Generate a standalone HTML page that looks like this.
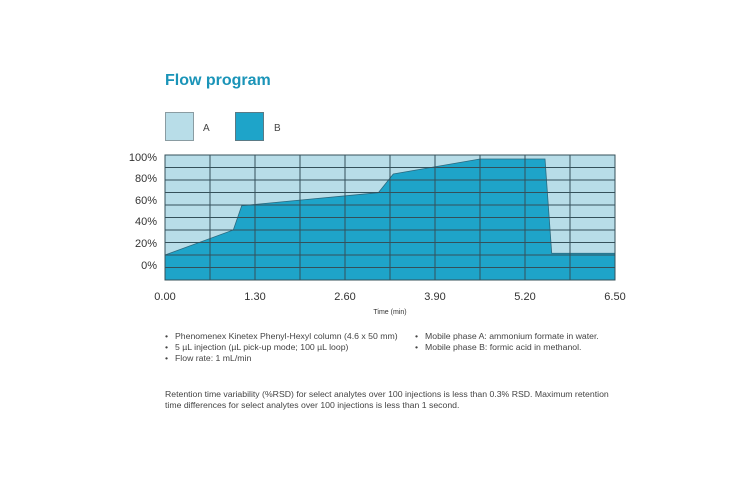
<!DOCTYPE html>
<html><head><meta charset="utf-8"><style>
body{margin:0;background:#fff;width:750px;height:478px;overflow:hidden;font-family:"Liberation Sans",sans-serif;}
</style></head><body>
<svg width="750" height="478" viewBox="0 0 750 478" xmlns="http://www.w3.org/2000/svg" font-family="Liberation Sans, sans-serif">
<text x="165" y="85" font-size="16" font-weight="bold" fill="#1a94b8">Flow program</text>
<rect x="165.5" y="112.5" width="28" height="28" fill="#b8dde8" stroke="#8a9ca2"/>
<text x="203" y="131" font-size="10" fill="#444">A</text>
<rect x="235.5" y="112.5" width="28" height="28" fill="#1ea4c9" stroke="#5a7a85"/>
<text x="274" y="131" font-size="10" fill="#444">B</text>
<rect x="165" y="155" width="450" height="125" fill="#b8dde8"/>
<polygon points="165,255 233.3,230 241.7,205.7 378.3,192.7 393.3,174 480,159 545,159 551.7,253.3 615,253.3 615,280 165,280" fill="#1ea4c9" stroke="#2a6a80" stroke-width="0.8"/>
<g stroke="#34505a" stroke-width="1" fill="none">
<path d="M210,155V280M255,155V280M300,155V280M345,155V280M390,155V280M435,155V280M480,155V280M525,155V280M570,155V280"/>
<path d="M165,167.5H615M165,180H615M165,192.5H615M165,205H615M165,217.5H615M165,230H615M165,242.5H615M165,255H615M165,267.5H615"/>
<rect x="165" y="155" width="450" height="125"/>
</g>
<g font-size="11" fill="#333" text-anchor="end">
<text x="157" y="161">100%</text><text x="157" y="182">80%</text><text x="157" y="204">60%</text><text x="157" y="225">40%</text><text x="157" y="247">20%</text><text x="157" y="269">0%</text>
</g>
<g font-size="11" fill="#333" text-anchor="middle">
<text x="165" y="300">0.00</text><text x="255" y="300">1.30</text><text x="345" y="300">2.60</text><text x="435" y="300">3.90</text><text x="525" y="300">5.20</text><text x="615" y="300">6.50</text>
<text x="390" y="314" font-size="7">Time (min)</text>
</g>
<g font-size="8.7" fill="#444">
<text x="165" y="339">•</text><text x="175" y="339">Phenomenex Kinetex Phenyl-Hexyl column (4.6 x 50 mm)</text>
<text x="165" y="350">•</text><text x="175" y="350">5 µL injection (µL pick-up mode; 100 µL loop)</text>
<text x="165" y="361">•</text><text x="175" y="361">Flow rate: 1 mL/min</text>
<text x="415" y="339">•</text><text x="425" y="339">Mobile phase A: ammonium formate in water.</text>
<text x="415" y="350">•</text><text x="425" y="350">Mobile phase B: formic acid in methanol.</text>
<text x="165" y="397">Retention time variability (%RSD) for select analytes over 100 injections is less than 0.3% RSD. Maximum retention</text>
<text x="165" y="408">time differences for select analytes over 100 injections is less than 1 second.</text>
</g>
</svg>
</body></html>
